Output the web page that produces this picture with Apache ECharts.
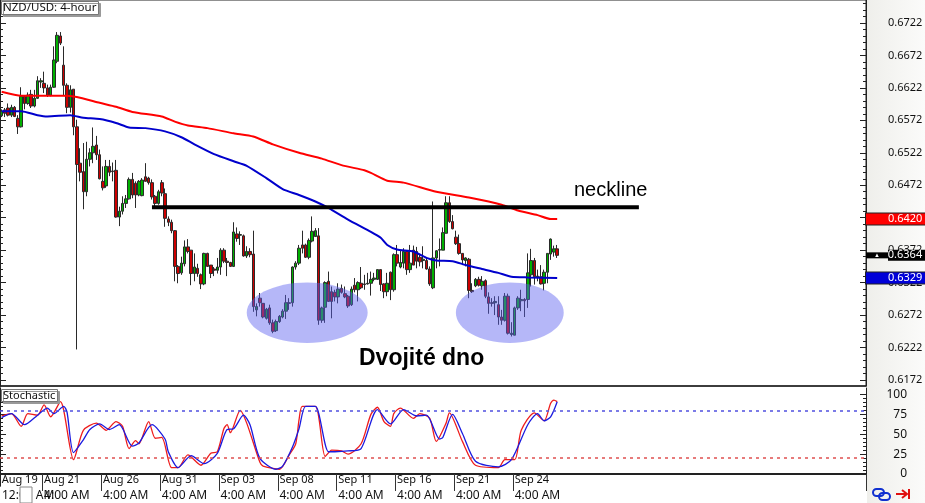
<!DOCTYPE html>
<html>
<head>
<meta charset="utf-8">
<style>
  html, body { margin: 0; padding: 0; background: #fff; }
  #chart { width: 925px; height: 503px; }
</style>
<script src="https://cdn.jsdelivr.net/npm/echarts@6/dist/echarts.min.js"></script>
</head>
<body>
<div id="chart"></div>
<script>
// [open, close, low, high]
const candles = [
  [.6579,.6586,.6577,.6589],[.6588,.6583,.6577,.6591],[.6591,.6580,.6578,.6598],[.6580,.6592,.6577,.6596],
  [.6592,.6578,.6577,.6594],[.6575,.6562,.6551,.6580],[.6562,.6609,.6561,.6623],[.6609,.6598,.6589,.6611],
  [.6598,.6611,.6596,.6615],[.6612,.6594,.6591,.6619],[.6594,.6606,.6592,.6619],[.6606,.6633,.6605,.6640],
  [.6631,.6633,.6622,.6637],[.6629,.6622,.6614,.6647],[.6622,.6611,.6608,.6627],[.6611,.6623,.6609,.6627],
  [.6623,.6665,.6622,.6686],[.6663,.6703,.6660,.6708],[.6702,.6691,.6688,.6708],[.6657,.6626,.6611,.6686],
  [.6626,.6592,.6583,.6629],[.6592,.6619,.6584,.6626],[.6620,.6562,.6549,.6620],[.6562,.6504,.6219,.6573],
  [.6506,.6492,.6478,.6529],[.6493,.6462,.6435,.6537],[.6462,.6512,.6455,.6539],[.6512,.6522,.6501,.6529],
  [.6522,.6532,.6506,.6561],[.6534,.6519,.6511,.6548],[.6519,.6482,.6481,.6527],[.6478,.6468,.6464,.6501],
  [.6471,.6501,.6468,.6511],[.6501,.6492,.6486,.6511],[.6494,.6493,.6478,.6507],[.6495,.6423,.6422,.6511],
  [.6423,.6432,.6409,.6439],[.6432,.6444,.6427,.6455],[.6444,.6451,.6437,.6457],[.6451,.6481,.6450,.6484],
  [.6481,.6457,.6452,.6491],[.6475,.6457,.6437,.6478],[.6457,.6478,.6455,.6480],[.6456,.6480,.6455,.6483],
  [.6485,.6478,.6478,.6506],[.6483,.6476,.6473,.6485],[.6476,.6454,.6450,.6481],[.6455,.6444,.6440,.6457],
  [.6444,.6462,.6442,.6465],[.6476,.6460,.6455,.6480],[.6459,.6421,.6408,.6467],[.6420,.6415,.6409,.6424],
  [.6415,.6402,.6398,.6419],[.6402,.6347,.6324,.6403],[.6347,.6336,.6321,.6349],[.6337,.6352,.6334,.6362],
  [.6351,.6377,.6347,.6387],[.6377,.6370,.6367,.6389],[.6372,.6336,.6318,.6372],[.6336,.6346,.6324,.6367],
  [.6344,.6336,.6331,.6351],[.6334,.6320,.6312,.6336],[.6320,.6367,.6318,.6368],[.6367,.6347,.6346,.6368],
  [.6349,.6336,.6329,.6349],[.6343,.6341,.6332,.6346],[.6341,.6346,.6336,.6360],[.6346,.6372,.6334,.6375],
  [.6372,.6355,.6352,.6375],[.6355,.6353,.6332,.6360],[.6353,.6347,.6346,.6354],[.6347,.6400,.6346,.6415],
  [.6397,.6390,.6385,.6407],[.6395,.6396,.6380,.6401],[.6394,.6363,.6362,.6396],[.6363,.6370,.6360,.6378],
  [.6370,.6365,.6361,.6375],[.6366,.6285,.6277,.6402],[.6280,.6285,.6270,.6290],[.6298,.6291,.6285,.6306],
  [.6290,.6269,.6267,.6290],[.6267,.6281,.6265,.6283],[.6283,.6260,.6257,.6288],[.6260,.6247,.6244,.6265],
  [.6248,.6262,.6246,.6265],[.6262,.6270,.6260,.6272],[.6269,.6278,.6267,.6281],[.6278,.6291,.6266,.6303],
  [.6291,.6290,.6280,.6298],[.6291,.6346,.6285,.6347],[.6346,.6352,.6342,.6355],[.6352,.6375,.6349,.6380],
  [.6380,.6375,.6367,.6402],[.6380,.6361,.6360,.6382],[.6361,.6387,.6358,.6390],[.6386,.6401,.6384,.6424],
  [.6393,.6402,.6393,.6406],[.6394,.6264,.6257,.6406],[.6264,.6283,.6260,.6285],[.6284,.6322,.6260,.6324],
  [.6324,.6293,.6293,.6339],[.6308,.6293,.6267,.6316],[.6307,.6300,.6293,.6311],[.6300,.6312,.6290,.6321],
  [.6313,.6307,.6305,.6319],[.6305,.6300,.6298,.6316],[.6301,.6286,.6283,.6303],[.6288,.6312,.6286,.6316],
  [.6318,.6311,.6307,.6329],[.6311,.6322,.6293,.6324],[.6321,.6314,.6312,.6346],[.6320,.6319,.6311,.6334],
  [.6320,.6321,.6319,.6337],[.6321,.6327,.6302,.6339],[.6327,.6329,.6324,.6337],[.6327,.6342,.6326,.6342],
  [.6342,.6319,.6309,.6342],[.6320,.6308,.6298,.6321],[.6308,.6321,.6301,.6337],[.6338,.6311,.6295,.6339],
  [.6311,.6365,.6308,.6367],[.6365,.6352,.6347,.6380],[.6346,.6353,.6344,.6372],[.6352,.6370,.6344,.6375],
  [.6370,.6342,.6334,.6372],[.6342,.6352,.6337,.6380],[.6372,.6349,.6349,.6379],[.6370,.6355,.6344,.6377],
  [.6361,.6354,.6347,.6365],[.6356,.6358,.6344,.6378],[.6356,.6343,.6342,.6360],[.6343,.6320,.6317,.6347],
  [.6314,.6360,.6312,.6447],[.6360,.6371,.6344,.6372],[.6372,.6373,.6347,.6390],[.6372,.6399,.6372,.6407],
  [.6398,.6445,.6398,.6455],[.6445,.6416,.6414,.6455],[.6416,.6405,.6404,.6426],[.6392,.6382,.6380,.6402],
  [.6382,.6367,.6365,.6396],[.6367,.6357,.6349,.6367],[.6356,.6360,.6347,.6361],[.6358,.6310,.6298,.6360],
  [.6310,.6308,.6306,.6321],[.6317,.6327,.6315,.6329],[.6327,.6318,.6316,.6331],[.6317,.6324,.6311,.6332],
  [.6325,.6301,.6298,.6327],[.6300,.6290,.6274,.6307],[.6291,.6290,.6285,.6298],[.6291,.6293,.6272,.6301],
  [.6288,.6269,.6257,.6301],[.6269,.6264,.6257,.6280],[.6264,.6301,.6262,.6306],[.6301,.6244,.6242,.6305],
  [.6242,.6244,.6239,.6261],[.6241,.6283,.6241,.6285],[.6283,.6298,.6280,.6301],[.6294,.6296,.6278,.6311],
  [.6296,.6294,.6269,.6298],[.6296,.6337,.6283,.6367],[.6334,.6356,.6316,.6374],[.6356,.6331,.6319,.6360],
  [.6331,.6332,.6324,.6342],[.6331,.6320,.6319,.6349],[.6321,.6338,.6310,.6342],[.6338,.6367,.6321,.6367],
  [.6366,.6389,.6357,.6390],[.6369,.6374,.6362,.6379],[.6374,.6364,.6360,.6380]
]

// moving averages as [bar, price]
const maRed = [[0,.6616],[6,.6610],[12,.6610],[19,.6610],[23,.6608],[30,.6599],[35,.6593],[40,.6585],[49,.6578],
  [53,.6570],[57,.6564],[63,.6560],[71,.6552],[77,.6547],[83,.6535],[91,.6522],[98,.6513],[104,.6503],[111,.6495],
  [113,.6491],[118,.6479],[123,.6476],[133,.6462],[143,.6453],[153,.6442],[158,.6433],[164,.6426],[168,.6420],[170,.6420]]
const maBlue = [[0,.6586],[6,.6586],[11,.6580],[14,.6578],[21,.6580],[25,.6576],[30,.6574],[35,.6568],[39,.6561],
  [44,.6560],[50,.6555],[55,.6546],[59,.6535],[65,.6520],[71,.6509],[75,.6502],[81,.6483],[86,.6466],[91,.6457],
  [96,.6447],[100,.6437],[106,.6419],[113,.6400],[116,.6391],[118,.6380],[121,.6373],[126,.6370],[130,.6360],
  [133,.6356],[138,.6355],[142,.6349],[147,.6343],[152,.6337],[156,.6331],[161,.6330],[170,.6329]]

const stochRed = [[0,73],[3,76],[6,60],[8,76],[11,74],[13,87],[15,72],[18,91],[22,18],[25,55],[29,64],[32,55],[35,66],
  [37,60],[39,32],[41,42],[42,38],[45,66],[47,45],[49,46],[52,8],[54,8],[57,24],[61,11],[64,26],[66,28],[68,57],[69,62],
  [70,52],[73,80],[75,64],[79,15],[80,10],[85,6],[88,24],[90,38],[91,68],[92,85],[96,85],[99,22],[101,30],[104,29],
  [106,25],[110,38],[113,75],[115,84],[117,66],[119,60],[120,76],[122,83],[126,70],[128,76],[131,70],[133,41],[136,64],
  [137,77],[141,41],[145,11],[152,8],[154,18],[157,18],[159,55],[163,77],[166,67],[168,89],[169,93],[170,91]]
const stochBlue = [[0,71],[3,76],[7,62],[11,74],[14,83],[16,76],[19,85],[20,78],[22,27],[25,43],[27,56],[30,63],[33,56],
  [36,62],[40,35],[42,39],[46,62],[50,44],[51,28],[54,8],[58,23],[62,13],[66,26],[69,56],[71,57],[74,74],[76,62],[79,20],
  [84,6],[86,10],[89,34],[91,57],[93,85],[96,85],[100,28],[102,28],[106,29],[110,32],[115,81],[119,63],[123,81],[127,73],
  [130,74],[134,44],[135,46],[138,75],[141,51],[145,16],[152,9],[156,18],[161,62],[164,76],[166,67],[168,72],[170,91]]
const stochHigh = 80
const stochLow = 20

const necklinePrice = .6438
const necklineBars = [46, 195]

// [first bar, last bar, top price, bottom price]
const ovals = [[75, 112, .6322, .6229], [139, 172, .6322, .6229]]

const priceLabels = [.6722, .6672, .6622, .6572, .6522, .6472, .6422, .6372, .6322, .6272, .6222, .6172]
const stochLabels = [100, 75, 50, 25, 0]

const tickBars = [0, 13, 31, 49, 67, 85, 103, 121, 139, 157]
const tickDates = ['Aug 19', 'Aug 21', 'Aug 26', 'Aug 31', 'Sep 03', 'Sep 08', 'Sep 11', 'Sep 16', 'Sep 21', 'Sep 24']
const tickTimes = ['12:00 AM', '4:00 AM', '4:00 AM', '4:00 AM', '4:00 AM', '4:00 AM', '4:00 AM', '4:00 AM', '4:00 AM', '4:00 AM']

const BAR_SLOTS = 265
const categories = Array.from({ length: BAR_SLOTS }, (_, i) => String(i))
const FONT = 'Noto Sans'

const priceMin = 0.61627
const priceMax = 0.67574
const stochMin = -15.1
const stochMax = 108.2

// small ticks every 0.001 on the price scale, every 5 on the stochastic one
const priceMinor = []
for (let k = 0; k < 60; k++) {
  const v = +(0.6172 + k * 0.001).toFixed(4)
  if (v < priceMax) priceMinor.push(v)
}
const stochMinor = []
for (let v = 0; v <= 100; v += 5) stochMinor.push(v)

function tickAxis(gridIndex, min, max, position, ticks, len) {
  return {
    type: 'value', gridIndex, min, max, position,
    axisLine: { show: true, onZero: false, lineStyle: { color: '#222', width: 1 } },
    axisTick: { show: true, inside: true, length: len, customValues: ticks, lineStyle: { color: '#222' } },
    axisLabel: { show: false },
    splitLine: { show: false }
  }
}

const last = candles[candles.length - 1]
const badgeValues = [maRed[maRed.length - 1][1], last[1], maBlue[maBlue.length - 1][1]]
const badgeStyle = (bg) => ({
  backgroundColor: bg, color: '#fff', fontFamily: FONT, fontSize: 11, lineHeight: 13,
  padding: [0, 3, 0, 22], width: 34, borderColor: '#222', borderWidth: 1
})

const yAxes = [
  tickAxis(0, priceMin, priceMax, 'left', priceMinor, 3),
  tickAxis(0, priceMin, priceMax, 'left', priceLabels, 6),
  tickAxis(0, priceMin, priceMax, 'right', priceMinor, 3),
  {
    type: 'value', gridIndex: 0, min: priceMin, max: priceMax, position: 'right',
    axisLine: { show: false },
    axisTick: { show: true, inside: true, length: 6, customValues: priceLabels, lineStyle: { color: '#222' } },
    axisLabel: {
      show: true, margin: 22, color: '#111', fontFamily: FONT, fontSize: 11,
      customValues: priceLabels, formatter: (v) => v.toFixed(4)
    },
    splitLine: { show: false }
  },
  {
    type: 'value', gridIndex: 0, min: priceMin, max: priceMax, position: 'right', z: 6,
    axisLine: { show: false },
    axisTick: { show: false },
    axisLabel: {
      show: true, margin: 0, customValues: badgeValues,
      formatter: (v) => {
        const s = v.toFixed(4)
        if (v === badgeValues[0]) return '{red|' + s + '}'
        if (v === badgeValues[2]) return '{blue|' + s + '}'
        return '{tri|▲}{black|' + s + '}'
      },
      rich: {
        red: badgeStyle('#ff0000'), blue: badgeStyle('#0000d8'),
        black: { backgroundColor: '#000', color: '#fff', fontFamily: FONT, fontSize: 11, lineHeight: 13, padding: [0, 3, 0, 0], width: 34 },
        tri: { backgroundColor: '#000', color: '#fff', fontSize: 6, lineHeight: 13, width: 22, align: 'center' }
      }
    },
    splitLine: { show: false }
  },
  tickAxis(1, stochMin, stochMax, 'left', stochMinor, 3),
  tickAxis(1, stochMin, stochMax, 'left', stochLabels, 6),
  tickAxis(1, stochMin, stochMax, 'right', stochMinor, 3),
  {
    type: 'value', gridIndex: 1, min: stochMin, max: stochMax, position: 'right',
    axisLine: { show: false },
    axisTick: { show: true, inside: true, length: 6, customValues: stochLabels, lineStyle: { color: '#222' } },
    axisLabel: {
      show: true, margin: 41, align: 'right', color: '#111', fontFamily: FONT, fontSize: 12,
      customValues: stochLabels
    },
    splitLine: { show: false }
  }
]

const PRICE_Y = 0
const STOCH_Y = 5

const chart = echarts.init(document.getElementById('chart'), null, { renderer: 'canvas' })
chart.setOption({
  animation: false,
  backgroundColor: 'transparent',
  title: [
    {
      text: 'NZD/USD: 4-hour', left: 1, top: 1, padding: [1, 2, 1, 2],
      backgroundColor: '#fff', borderColor: '#777', borderWidth: 1,
      shadowColor: '#999', shadowOffsetX: 2, shadowOffsetY: 2, shadowBlur: 0,
      textStyle: { fontFamily: FONT, fontSize: 11.5, fontWeight: 'normal', color: '#111' }
    },
    {
      text: 'Stochastic', left: 1, top: 389, padding: [1, 2, 1, 2],
      backgroundColor: '#fff', borderColor: '#777', borderWidth: 1,
      shadowColor: '#999', shadowOffsetX: 2, shadowOffsetY: 2, shadowBlur: 0,
      textStyle: { fontFamily: FONT, fontSize: 11, fontWeight: 'normal', color: '#111' }
    }
  ],
  grid: [
    { left: 0, top: 0, width: 866, height: 386, outerBoundsMode: 'none', show: true, backgroundColor: '#fff', borderWidth: 1, borderColor: '#222' },
    { left: 0, top: 388, width: 866, height: 98, outerBoundsMode: 'none', show: true, backgroundColor: '#fff', borderWidth: 0 }
  ],
  xAxis: [
    { type: 'category', gridIndex: 0, data: categories, axisLine: { lineStyle: { color: '#222', width: 1.5 } }, axisTick: { show: false }, axisLabel: { show: false } },
    {
      type: 'category', gridIndex: 1, data: categories, position: 'bottom',
      axisLine: { lineStyle: { color: '#222', width: 2 } },
      axisTick: { show: false },
      axisLabel: {
        show: true, inside: true, margin: 1, align: 'left', color: '#111', fontFamily: FONT, fontSize: 11, showMinLabel: true,
        interval: (i) => tickBars.includes(i),
        formatter: (v) => tickDates[tickBars.indexOf(+v)]
      }
    },
    {
      type: 'category', gridIndex: 1, data: categories, position: 'bottom',
      axisLine: { show: false },
      axisTick: {
        show: true, length: 17, lineStyle: { color: '#333' },
        interval: (i) => tickBars.includes(i) && i > 0
      },
      axisLabel: {
        show: true, margin: 4, align: 'left', color: '#111', fontFamily: FONT, fontSize: 12, showMinLabel: true,
        interval: (i) => tickBars.includes(i) && i > 0,
        formatter: (v) => tickTimes[tickBars.indexOf(+v)]
      }
    }
  ],
  yAxis: yAxes,
  series: [
    {
      type: 'candlestick', xAxisIndex: 0, yAxisIndex: PRICE_Y, data: candles, barWidth: 3, z: 2,
      itemStyle: { color: '#00b000', color0: '#cc0000', borderColor: '#2a2a2a', borderColor0: '#2a2a2a', borderWidth: 1 }
    },
    {
      type: 'line', xAxisIndex: 0, yAxisIndex: PRICE_Y, data: maRed, showSymbol: false, z: 3, smooth: 0.2,
      lineStyle: { color: '#ff0000', width: 2 }
    },
    {
      type: 'line', xAxisIndex: 0, yAxisIndex: PRICE_Y, data: maBlue, showSymbol: false, z: 3, smooth: 0.2,
      lineStyle: { color: '#0000cc', width: 2 }
    },
    {
      type: 'line', xAxisIndex: 0, yAxisIndex: PRICE_Y, showSymbol: false, z: 4,
      data: necklineBars.map((b) => [b, necklinePrice]),
      lineStyle: { color: '#000', width: 4 }
    },
    {
      type: 'custom', xAxisIndex: 0, yAxisIndex: PRICE_Y, z: 5, data: ovals,
      encode: { x: [0, 1], y: [2, 3] },
      renderItem: (params, api) => {
        const a = api.coord([api.value(0), api.value(2)])
        const b = api.coord([api.value(1), api.value(3)])
        return {
          type: 'ellipse',
          shape: { cx: (a[0] + b[0]) / 2, cy: (a[1] + b[1]) / 2, rx: (b[0] - a[0]) / 2, ry: (b[1] - a[1]) / 2 },
          style: { fill: 'rgba(90,95,240,0.45)' }
        }
      }
    },
    {
      type: 'line', xAxisIndex: 1, yAxisIndex: STOCH_Y, data: stochRed, showSymbol: false, z: 3, smooth: 0.25,
      lineStyle: { color: '#ee1c1c', width: 1.3 },
      markLine: {
        silent: true, symbol: 'none', label: { show: false },
        lineStyle: { type: [3, 4], width: 1.5, color: '#e05050' },
        data: [{ yAxis: stochLow }]
      }
    },
    {
      type: 'line', xAxisIndex: 1, yAxisIndex: STOCH_Y, data: stochBlue, showSymbol: false, z: 4, smooth: 0.25,
      lineStyle: { color: '#1a1ae0', width: 1.3 },
      markLine: {
        silent: true, symbol: 'none', label: { show: false },
        lineStyle: { type: [3, 4], width: 1.5, color: '#5050e0' },
        data: [{ yAxis: stochHigh }]
      }
    }
  ],
  graphic: [
    {
      type: 'rect', silent: true, z: -10,
      shape: { x: 867, y: 0, width: 58, height: 503 },
      style: {
        fill: { type: 'linear', x: 0, y: 0, x2: 1, y2: 0, colorStops: [{ offset: 0, color: '#efefeb' }, { offset: 1, color: '#fbfbfa' }] }
      }
    },
    { type: 'text', z: 20, left: 574, top: 180, style: { text: 'neckline', fontFamily: 'Liberation Sans', fontSize: 20, fill: '#000' } },
    { type: 'text', z: 20, left: 359, top: 347, style: { text: 'Dvojité dno', fontFamily: 'Liberation Sans', fontSize: 23, fontWeight: 'bold', fill: '#000' } },
    // first time label runs under the next one, so it sits outside the axis
    { type: 'text', z: 19, left: 2, top: 490, style: { text: tickTimes[0], fontFamily: FONT, fontSize: 12, fill: '#111' } },
    // hole in the time row
    { type: 'rect', z: 20, shape: { x: 20, y: 487, width: 12, height: 16 }, style: { fill: '#fff', stroke: '#888', lineWidth: 1 } },
    // link icon
    { type: 'rect', z: 20, shape: { x: 873, y: 489, width: 11, height: 7, r: 3.5 }, style: { fill: 'none', stroke: '#1030d0', lineWidth: 2 } },
    { type: 'rect', z: 20, shape: { x: 879, y: 493, width: 11, height: 7, r: 3.5 }, style: { fill: 'none', stroke: '#1030d0', lineWidth: 2 } },
    // scroll to end icon
    { type: 'polyline', z: 20, shape: { points: [[896, 494], [907, 494]] }, style: { stroke: '#e01010', lineWidth: 2 } },
    { type: 'polyline', z: 20, shape: { points: [[902, 490], [907, 494], [902, 498]] }, style: { fill: 'none', stroke: '#e01010', lineWidth: 2 } },
    { type: 'polyline', z: 20, shape: { points: [[909, 489], [909, 499]] }, style: { stroke: '#e01010', lineWidth: 2 } }
  ]
})
</script>
</body>
</html>
